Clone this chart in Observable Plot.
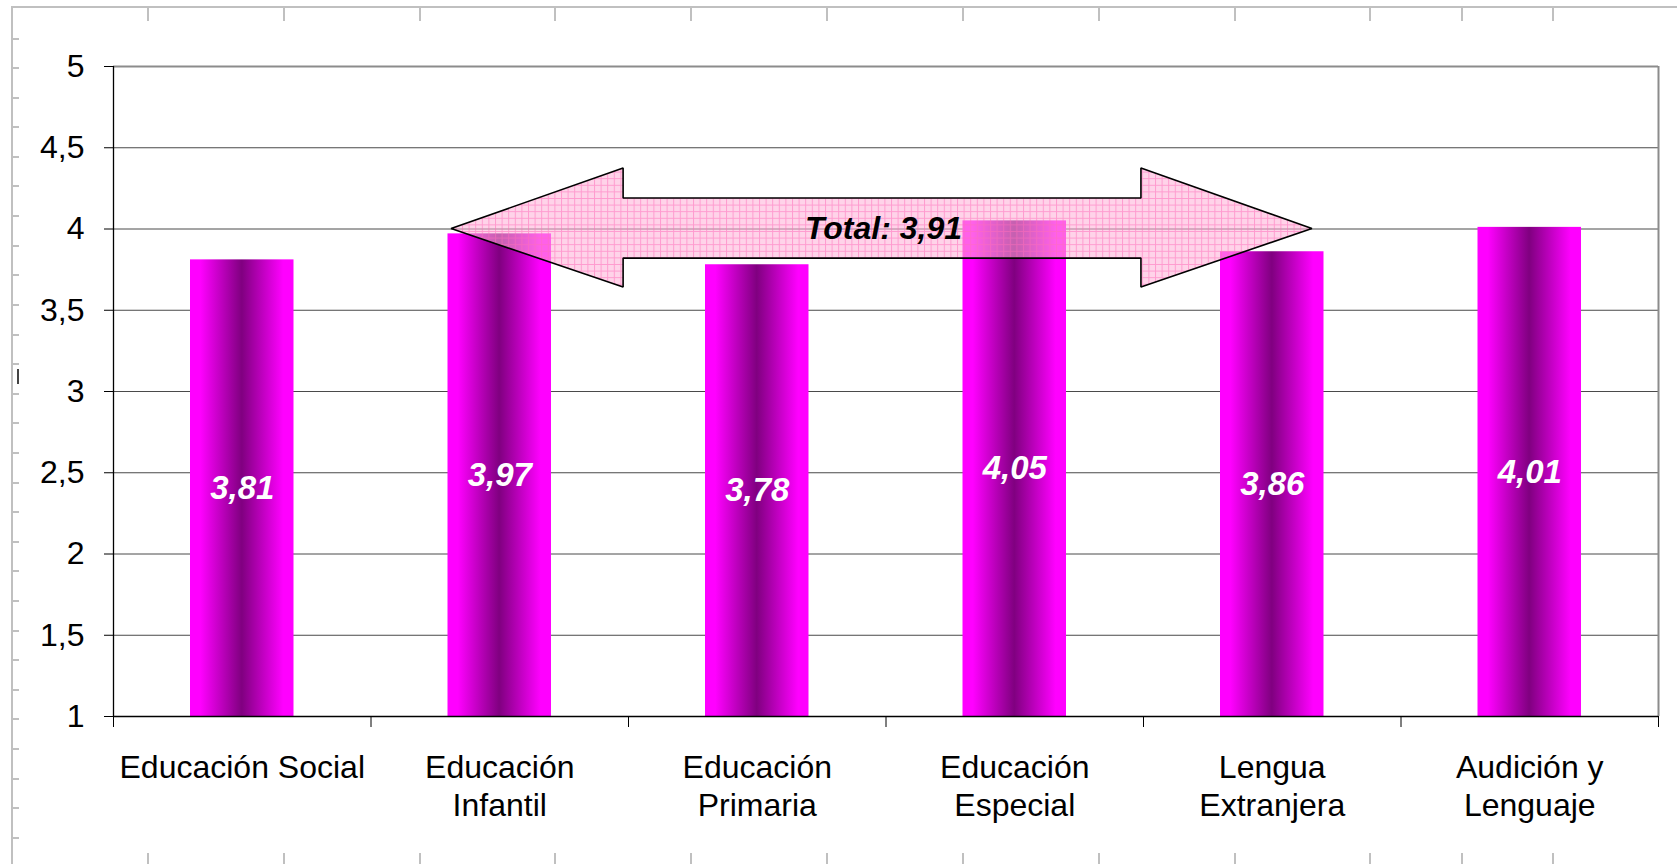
<!DOCTYPE html>
<html>
<head>
<meta charset="utf-8">
<script src="https://cdn.jsdelivr.net/npm/d3@7"></script>
<script src="https://cdn.jsdelivr.net/npm/@observablehq/plot@0.6"></script>
<style>
  html, body { margin: 0; padding: 0; background: #fff; overflow: hidden; }
  #wrap { position: relative; width: 1677px; height: 864px; }
  #chart { position: absolute; left: 0; top: 0; }
  .deco { position: absolute; background: #c0c0c0; }
</style>
</head>
<body>
<div id="wrap"><div id="chart"></div></div>
<script>
// ---- data ----
const categories = ["Educación Social", "Educación\nInfantil", "Educación\nPrimaria", "Educación\nEspecial", "Lengua\nExtranjera", "Audición y\nLenguaje"];
const values = [3.81, 3.97, 3.78, 4.05, 3.86, 4.01];
const yTicks = [1, 1.5, 2, 2.5, 3, 3.5, 4, 4.5, 5];
const totalValue = 3.91;

// annotation arrow (data units: x in category slots, y in score units)
const arrowX    = [1.313, 1.981, 1.981, 3.992, 3.992, 4.656];
const arrowLow  = [4.0,   3.64,  3.818, 3.818, 3.64,  4.0];
const arrowHigh = [4.0,   4.372, 4.188, 4.188, 4.372, 4.0];
const totalAt = {x: 2.99, y: 4.0};

const fmt = v => String(v).replace(".", ",");
const fmt2 = v => v.toFixed(2).replace(".", ",");

const rows = categories.map((c, i) => ({cat: c, i, value: values[i]}));
const arrow = arrowX.map((x, k) => ({x, y1: arrowLow[k], y2: arrowHigh[k]}));

const W = 1677, H = 864;
const mL = 113, mR = 19, mT = 66, mB = 148;
const font = "'Liberation Sans', Arial, sans-serif";

const plot = Plot.plot({
  width: W, height: H,
  marginLeft: mL, marginRight: mR, marginTop: mT, marginBottom: mB,
  style: {fontFamily: font, color: "black", background: "white"},
  x: {type: "linear", domain: [0, categories.length]},
  y: {domain: [1, 5]},
  marks: [
    Plot.ruleY(yTicks.filter(t => t > 1 && t < 5), {stroke: "#4a4a4a", strokeWidth: 1}),
    Plot.ruleY([5], {stroke: "#8c8c8c", strokeWidth: 2}),
    Plot.ruleX([categories.length], {stroke: "#8c8c8c", strokeWidth: 2}),
    Plot.rectY(rows, {x1: d => d.i, x2: d => d.i + 1, y1: 1, y2: "value",
      insetLeft: 77, insetRight: 77, fill: "url(#barGrad)"}),
    Plot.areaY(arrow, {x: "x", y1: "y1", y2: "y2", curve: "linear",
      fill: "url(#arrowPat)", stroke: "black", strokeWidth: 1.6, strokeLinejoin: "miter"}),
    Plot.text(rows, {x: d => d.i + 0.5, y: d => (d.value + 1) / 2, text: d => fmt2(d.value),
      fill: "white", fontSize: 33, fontWeight: "bold", fontStyle: "italic"}),
    Plot.text([totalValue], {x: totalAt.x, y: totalAt.y, text: d => "Total: " + fmt2(d),
      fill: "black", fontSize: 32, fontWeight: "bold", fontStyle: "italic"}),
    Plot.axisY({ticks: yTicks, tickFormat: fmt, tickSize: 9, tickPadding: 20,
      fontSize: 32, label: null, stroke: "black"}),
    Plot.axisX({ticks: d3.range(categories.length + 1), tickFormat: () => "", tickSize: 11, label: null, stroke: "black"}),
    Plot.ruleX([0], {stroke: "black", strokeWidth: 1.3}),
    Plot.ruleY([1], {stroke: "black", strokeWidth: 1.3}),
    Plot.text(rows, {x: d => d.i + 0.5, y: 1, text: "cat", lineAnchor: "top", dy: 34,
      fontSize: 32, lineHeight: 1.19, fill: "black"})
  ]
});

// gradient + pattern definitions
const svg = d3.select(plot);
const defs = svg.insert("defs", ":first-child");
const g = defs.append("linearGradient").attr("id", "barGrad")
  .attr("x1", 0).attr("x2", 1).attr("y1", 0).attr("y2", 0);
[[0, "#ff00ff"], [0.1, "#ff00ff"], [0.5, "#800080"], [0.9, "#ff00ff"], [1, "#ff00ff"]]
  .forEach(([o, c]) => g.append("stop").attr("offset", o).attr("stop-color", c));
const p = defs.append("pattern").attr("id", "arrowPat").attr("patternUnits", "userSpaceOnUse")
  .attr("width", 6.6).attr("height", 6.6);
p.append("rect").attr("width", 6.6).attr("height", 6.6).attr("fill", "rgba(255,175,215,0.55)");
p.append("path").attr("d", "M0,0.5H6.6M0.5,0V6.6").attr("stroke", "rgba(255,110,185,0.55)").attr("stroke-width", 1).attr("fill", "none");

document.getElementById("chart").appendChild(plot);

// page frame / ruler decoration
const wrap = document.getElementById("wrap");
function deco(l, t, w, h, c) {
  const d = document.createElement("div");
  d.className = "deco";
  Object.assign(d.style, {left: l + "px", top: t + "px", width: w + "px", height: h + "px"});
  if (c) d.style.background = c;
  wrap.appendChild(d);
}
deco(11, 6, 2, H - 6);
deco(11, 6, W - 11, 2);
const rulerX = [147, 283, 419, 554, 690, 826, 962, 1098, 1234, 1369, 1461, 1552];
rulerX.forEach(x => { deco(x, 8, 2, 13); deco(x, 853, 2, 11); });
for (let y = 37.5; y < H - 20; y += 29.6) deco(13, Math.round(y), 6, 2);
deco(17, 369, 2, 15, "#444");
</script>
</body>
</html>
